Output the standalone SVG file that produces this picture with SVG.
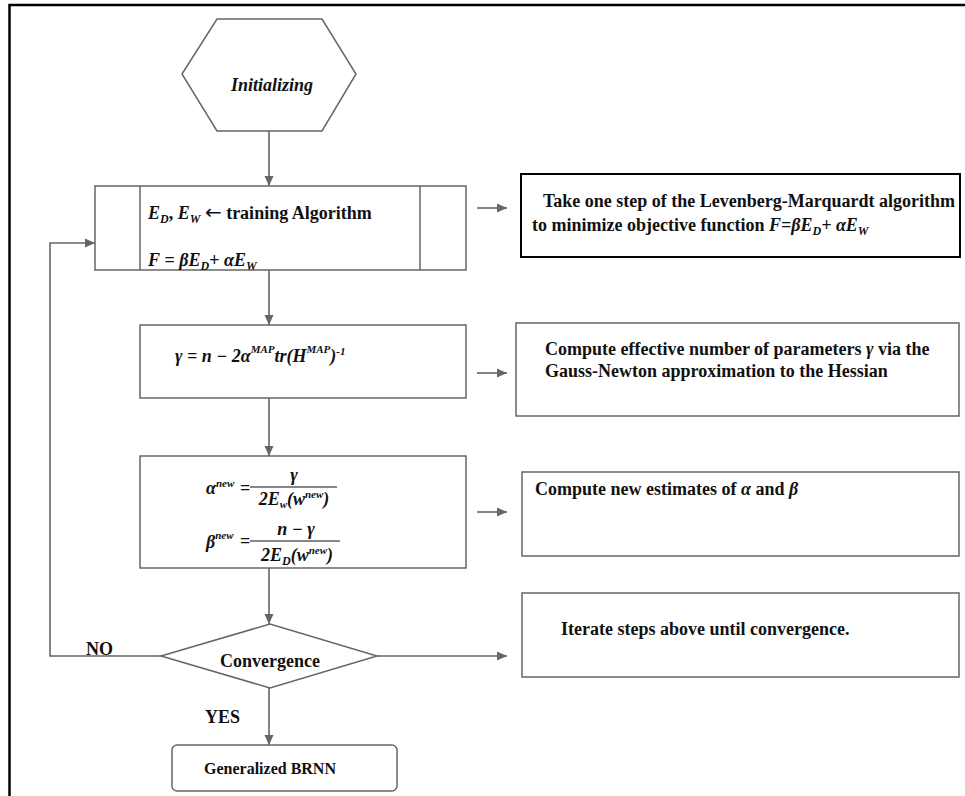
<svg xmlns="http://www.w3.org/2000/svg" width="965" height="796" viewBox="0 0 965 796">
<style>
text{font-family:"Liberation Serif","Times New Roman",serif;font-weight:bold;fill:#111}
.f18{font-size:18px}
.f16{font-size:16px}
.i{font-style:italic}
.s{font-size:11px}
.sub{font-size:12px}
.arr{font-size:20px;font-family:"DejaVu Sans",sans-serif;font-weight:normal}
.node{fill:#fff;stroke:#666;stroke-width:1.5}
.conn{fill:none;stroke:#666;stroke-width:1.6}
.bar{stroke:#111;stroke-width:1.2}
</style>
<defs>
<marker id="ah" markerUnits="userSpaceOnUse" markerWidth="11" markerHeight="10" refX="10" refY="5" orient="auto">
<path d="M0,0.5 L10,5 L0,9.5 z" fill="#666"/>
</marker>
</defs>
<rect width="965" height="796" fill="#fff"/>
<path d="M9.5,796 V5 H965" fill="none" stroke="#000" stroke-width="2.5"/>

<g id="connectors">
<line class="conn" x1="269" y1="131" x2="269" y2="186" marker-end="url(#ah)"/>
<line class="conn" x1="269" y1="270" x2="269" y2="325" marker-end="url(#ah)"/>
<line class="conn" x1="269" y1="398" x2="269" y2="456" marker-end="url(#ah)"/>
<line class="conn" x1="269" y1="568" x2="269" y2="624" marker-end="url(#ah)"/>
<line class="conn" x1="269" y1="688" x2="269" y2="745" marker-end="url(#ah)"/>
<polyline class="conn" points="161,656 50,656 50,243 95,243" marker-end="url(#ah)"/>
<line class="conn" x1="377" y1="656" x2="507" y2="656" marker-end="url(#ah)"/>
<line class="conn" x1="477" y1="208" x2="507" y2="208" marker-end="url(#ah)"/>
<line class="conn" x1="477" y1="373" x2="507" y2="373" marker-end="url(#ah)"/>
<line class="conn" x1="477" y1="512" x2="507" y2="512" marker-end="url(#ah)"/>
<text x="86" y="655" class="f18">NO</text>
<text x="205" y="723" class="f18">YES</text>
</g>

<g id="initializing">
<polygon class="node" points="182,74 217,19 322,19 356,74 322,131 217,131"/>
<text x="272" y="91" class="f18 i" text-anchor="middle">Initializing</text>
</g>

<g id="training">
<rect class="node" x="95" y="186" width="371" height="84"/>
<line class="node" x1="140" y1="186" x2="140" y2="270"/>
<line class="node" x1="420" y1="186" x2="420" y2="270"/>
<text x="148" y="219" class="f18"><tspan class="i">E</tspan><tspan class="i sub" dy="4">D</tspan><tspan dy="-4">, </tspan><tspan class="i">E</tspan><tspan class="i sub" dy="4">W</tspan><tspan dy="-4"> </tspan><tspan class="arr">←</tspan><tspan> training Algorithm</tspan></text>
<text x="148" y="266" class="f18"><tspan class="i">F</tspan> = <tspan class="i">βE</tspan><tspan class="i sub" dy="4">D</tspan><tspan dy="-4">+ </tspan><tspan class="i">αE</tspan><tspan class="i sub" dy="4">W</tspan></text>
</g>

<g id="lm-note">
<rect x="521" y="174" width="439" height="83" fill="#fff" stroke="#000" stroke-width="2"/>
<text x="543" y="207" class="f18">Take one step of the Levenberg-Marquardt algorithm</text>
<text x="532" y="231" class="f18">to minimize objective function <tspan class="i">F=βE</tspan><tspan class="i sub" dy="4">D</tspan><tspan class="i" dy="-4">+ αE</tspan><tspan class="i sub" dy="4">W</tspan></text>
</g>

<g id="gamma">
<rect class="node" x="140" y="325" width="326" height="73"/>
<text x="175" y="362" class="f18 i">γ = n − 2α<tspan class="s" dy="-9">MAP</tspan><tspan dy="9">tr(H</tspan><tspan class="s" dy="-9">MAP</tspan><tspan dy="9">)</tspan><tspan class="s" dy="-7">-1</tspan></text>
</g>

<g id="gamma-note">
<rect class="node" x="516" y="323" width="443" height="93"/>
<text x="545" y="355" class="f18">Compute effective number of parameters <tspan class="i">γ</tspan> via the</text>
<text x="545" y="377" class="f18">Gauss-Newton approximation to the Hessian</text>
</g>

<g id="alpha-beta">
<rect class="node" x="140" y="456" width="326" height="112"/>
<text x="206" y="494" class="f18 i">α<tspan class="s" dy="-7">new</tspan></text>
<text x="240" y="494" class="f18">=</text>
<line class="bar" x1="250" y1="487" x2="337" y2="487"/>
<text x="294" y="481" class="f18 i" text-anchor="middle">γ</text>
<text x="294" y="505" class="f18 i" text-anchor="middle">2E<tspan class="s" dy="3">w</tspan><tspan dy="-3">(w</tspan><tspan class="s" dy="-7">new</tspan><tspan dy="7">)</tspan></text>
<text x="206" y="548" class="f18 i">β<tspan class="s" dy="-9">new</tspan></text>
<text x="240" y="547" class="f18">=</text>
<line class="bar" x1="250" y1="541" x2="340" y2="541"/>
<text x="296" y="535" class="f18 i" text-anchor="middle">n − γ</text>
<text x="297" y="561" class="f18 i" text-anchor="middle">2E<tspan class="sub" dy="4">D</tspan><tspan dy="-4">(w</tspan><tspan class="s" dy="-7">new</tspan><tspan dy="7">)</tspan></text>
</g>

<g id="ab-note">
<rect class="node" x="522" y="472" width="437" height="84"/>
<text x="535" y="495" class="f18">Compute new estimates of <tspan class="i">α</tspan> and <tspan class="i">β</tspan></text>
</g>

<g id="convergence">
<polygon class="node" points="161,656 270,624 377,656 270,688"/>
<text x="270" y="667" class="f18" text-anchor="middle">Convergence</text>
</g>

<g id="iterate-note">
<rect class="node" x="522" y="593" width="437" height="84"/>
<text x="561" y="635" class="f18">Iterate steps above until convergence.</text>
</g>

<g id="brnn">
<rect class="node" x="172" y="745" width="225" height="46" rx="5"/>
<text x="270" y="774" class="f16" text-anchor="middle">Generalized BRNN</text>
</g>
</svg>
